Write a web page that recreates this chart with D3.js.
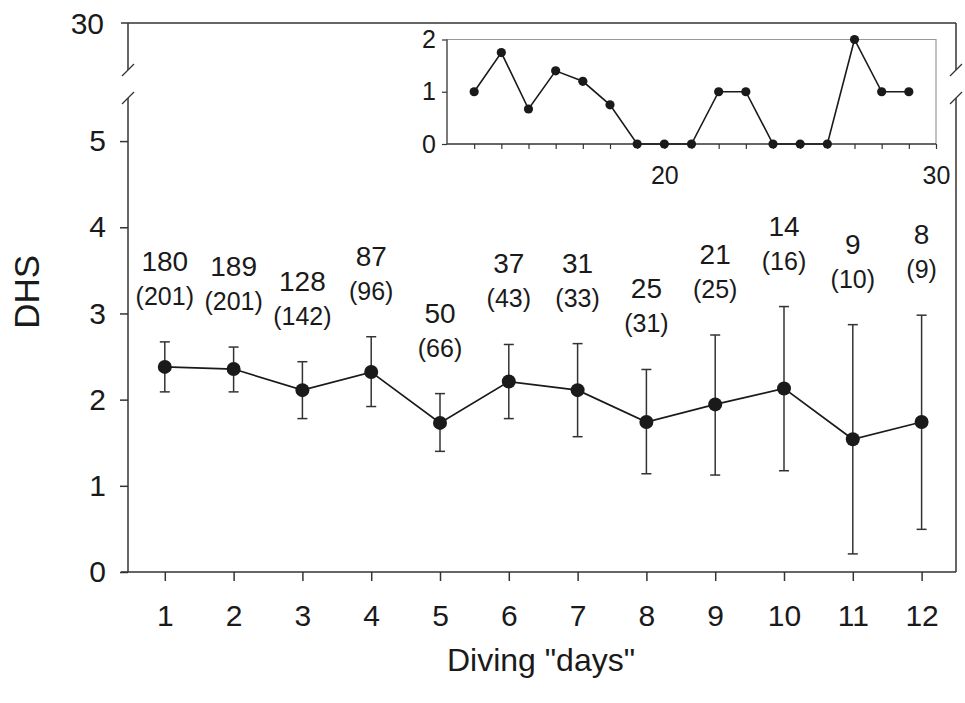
<!DOCTYPE html>
<html>
<head>
<meta charset="utf-8">
<script src="https://cdn.jsdelivr.net/npm/d3@7"></script>
<style>
  body { margin: 0; background: #fff; }
  svg text { font-family: "Liberation Sans", Arial, sans-serif; fill: #1a1a1a; }
</style>
</head>
<body>
<div id="chart"></div>
<script>
// Main series: DHS by diving day, with error bars and sample sizes
const days = [1, 2, 3, 4, 5, 6, 7, 8, 9, 10, 11, 12];
const dhsMean  = [2.38, 2.355, 2.11, 2.32, 1.73, 2.21, 2.11, 1.74, 1.945, 2.13, 1.54, 1.74];
const dhsUpper = [2.67, 2.61, 2.44, 2.73, 2.07, 2.64, 2.65, 2.35, 2.75, 3.08, 2.87, 2.98];
const dhsLower = [2.09, 2.09, 1.78, 1.92, 1.40, 1.78, 1.57, 1.14, 1.125, 1.175, 0.21, 0.495];
const nCount = [180, 189, 128, 87, 50, 37, 31, 25, 21, 14, 9, 8];
const nTotal = [201, 201, 142, 96, 66, 43, 33, 31, 25, 16, 10, 9];
const yTicks = [0, 1, 2, 3, 4, 5];

// Inset series: days 13-29
const insetDays = [13, 14, 15, 16, 17, 18, 19, 20, 21, 22, 23, 24, 25, 26, 27, 28, 29];
const insetDhs  = [1, 1.75, 0.67, 1.4, 1.2, 0.75, 0, 0, 0, 1, 1, 0, 0, 0, 2, 1, 1];
const insetXLabels = [20, 30];
const insetYTicks = [0, 1, 2];

const width = 965, height = 703;
const ink = "#1a1a1a", axisInk = "#333";
const font = "Liberation Sans, Arial, sans-serif";

const svg = d3.select("#chart")
    .append("svg")
    .attr("width", width)
    .attr("height", height);

// Scales
const xScale = d3.scaleLinear().domain([0.465, 12.5]).range([128, 956]);
const yScale = d3.scaleLinear().domain([0, 5.5]).range([572, 98]);
const yTop = d3.scaleLinear().domain([29.45, 30]).range([70, 23]);

const left = xScale.range()[0], right = xScale.range()[1];

// Frame: top border, side axes with break, bottom axis
svg.append("line")
    .attr("x1", left - 7).attr("x2", right)
    .attr("y1", yTop(30)).attr("y2", yTop(30))
    .attr("stroke", axisInk).attr("stroke-width", 1.5);

[left, right].forEach(x => {
    svg.append("line")
        .attr("x1", x).attr("x2", x)
        .attr("y1", yTop(30)).attr("y2", yTop(29.45))
        .attr("stroke", axisInk).attr("stroke-width", 1.5);
    svg.append("line")
        .attr("x1", x).attr("x2", x)
        .attr("y1", yScale(5.5)).attr("y2", yScale(0))
        .attr("stroke", axisInk).attr("stroke-width", 1.5);
    // break slashes
    [yTop(29.45), yScale(5.5)].forEach(y => {
        svg.append("line")
            .attr("x1", x - 6).attr("x2", x + 6)
            .attr("y1", y + 6).attr("y2", y - 6)
            .attr("stroke", axisInk).attr("stroke-width", 1.3);
    });
});

svg.append("text")
    .attr("x", left - 24).attr("y", yTop(30))
    .attr("dy", "0.36em")
    .attr("text-anchor", "end")
    .attr("font-size", 30)
    .text("30");

// Y axis (lower segment)
const yAxis = svg.append("g")
    .attr("transform", `translate(${left},0)`)
    .call(d3.axisLeft(yScale).tickValues(yTicks).tickSize(8).tickPadding(14).tickFormat(d3.format("d")));
yAxis.select(".domain").remove();
yAxis.selectAll(".tick line").attr("stroke", axisInk).attr("stroke-width", 1.5);
yAxis.selectAll(".tick text").attr("font-size", 30).attr("fill", ink).attr("font-family", font);

// X axis
const xAxis = svg.append("g")
    .attr("transform", `translate(0,${yScale(0)})`)
    .call(d3.axisBottom(xScale).tickValues(days).tickSize(9).tickPadding(24).tickFormat(d3.format("d")));
xAxis.select(".domain").remove();
xAxis.selectAll(".tick line").attr("stroke", axisInk).attr("stroke-width", 1.5);
xAxis.selectAll(".tick text").attr("font-size", 30).attr("fill", ink).attr("font-family", font);
svg.append("line")
    .attr("x1", left - 7).attr("x2", right)
    .attr("y1", yScale(0)).attr("y2", yScale(0))
    .attr("stroke", axisInk).attr("stroke-width", 1.5);

// Axis titles
svg.append("text")
    .attr("transform", `translate(39,${yScale(3.25)}) rotate(-90)`)
    .attr("text-anchor", "middle")
    .attr("font-size", 35)
    .text("DHS");

svg.append("text")
    .attr("x", (left + right) / 2 - 1).attr("y", 671)
    .attr("text-anchor", "middle")
    .attr("font-size", 32)
    .text('Diving "days"');

// Error bars
const capW = 5;
days.forEach((d, i) => {
    const x = xScale(d);
    svg.append("line")
        .attr("x1", x).attr("x2", x)
        .attr("y1", yScale(dhsUpper[i])).attr("y2", yScale(dhsLower[i]))
        .attr("stroke", axisInk).attr("stroke-width", 1.5);
    [dhsUpper[i], dhsLower[i]].forEach(v => {
        svg.append("line")
            .attr("x1", x - capW).attr("x2", x + capW)
            .attr("y1", yScale(v)).attr("y2", yScale(v))
            .attr("stroke", axisInk).attr("stroke-width", 1.5);
    });
});

// Mean line and markers
svg.append("path")
    .datum(days)
    .attr("fill", "none")
    .attr("stroke", ink)
    .attr("stroke-width", 1.7)
    .attr("d", d3.line().x(d => xScale(d)).y((d, i) => yScale(dhsMean[i])));

svg.selectAll(".dot")
    .data(days)
    .join("circle")
    .attr("class", "dot")
    .attr("cx", d => xScale(d))
    .attr("cy", (d, i) => yScale(dhsMean[i]))
    .attr("r", 7)
    .attr("fill", ink);

// Sample size labels above each error bar
days.forEach((d, i) => {
    const x = xScale(d);
    const base = yScale(dhsUpper[i]) - 37;
    svg.append("text")
        .attr("x", x).attr("y", base)
        .attr("text-anchor", "middle")
        .attr("font-size", 25)
        .text(`(${nTotal[i]})`);
    svg.append("text")
        .attr("x", x).attr("y", base - 34)
        .attr("text-anchor", "middle")
        .attr("font-size", 28)
        .text(nCount[i]);
});

// Inset
const ix = d3.scaleLinear().domain([12, 30]).range([447, 936]);
const iy = d3.scaleLinear().domain([0, 2]).range([144, 39.5]);

svg.append("polyline")
    .attr("points", `${ix(12)},${iy(2)} ${ix(30)},${iy(2)} ${ix(30)},${iy(0)}`)
    .attr("fill", "none")
    .attr("stroke", "#999")
    .attr("stroke-width", 1.2);

svg.append("line")
    .attr("x1", ix(12)).attr("x2", ix(12))
    .attr("y1", iy(2)).attr("y2", iy(0))
    .attr("stroke", axisInk).attr("stroke-width", 1.3);
svg.append("line")
    .attr("x1", ix(12)).attr("x2", ix(30))
    .attr("y1", iy(0)).attr("y2", iy(0))
    .attr("stroke", axisInk).attr("stroke-width", 1.3);

const iyAxis = svg.append("g")
    .attr("transform", `translate(${ix(12)},0)`)
    .call(d3.axisLeft(iy).tickValues(insetYTicks).tickSize(5).tickPadding(6).tickFormat(d3.format("d")));
iyAxis.select(".domain").remove();
iyAxis.selectAll(".tick line").attr("stroke", axisInk).attr("stroke-width", 1.2);
iyAxis.selectAll(".tick text").attr("font-size", 25).attr("fill", ink).attr("font-family", font);

const ixAxis = svg.append("g")
    .attr("transform", `translate(0,${iy(0)})`)
    .call(d3.axisBottom(ix).tickValues(d3.range(13, 31)).tickSize(5).tickPadding(17)
        .tickFormat(d => insetXLabels.includes(d) ? d : ""));
ixAxis.select(".domain").remove();
ixAxis.selectAll(".tick line").attr("stroke", axisInk).attr("stroke-width", 1.2);
ixAxis.selectAll(".tick text").attr("font-size", 25).attr("fill", ink).attr("font-family", font);

svg.append("path")
    .datum(insetDays)
    .attr("fill", "none")
    .attr("stroke", ink)
    .attr("stroke-width", 1.6)
    .attr("d", d3.line().x(d => ix(d)).y((d, i) => iy(insetDhs[i])));

svg.selectAll(".idot")
    .data(insetDays)
    .join("circle")
    .attr("class", "idot")
    .attr("cx", d => ix(d))
    .attr("cy", (d, i) => iy(insetDhs[i]))
    .attr("r", 4.6)
    .attr("fill", ink);
</script>
</body>
</html>
